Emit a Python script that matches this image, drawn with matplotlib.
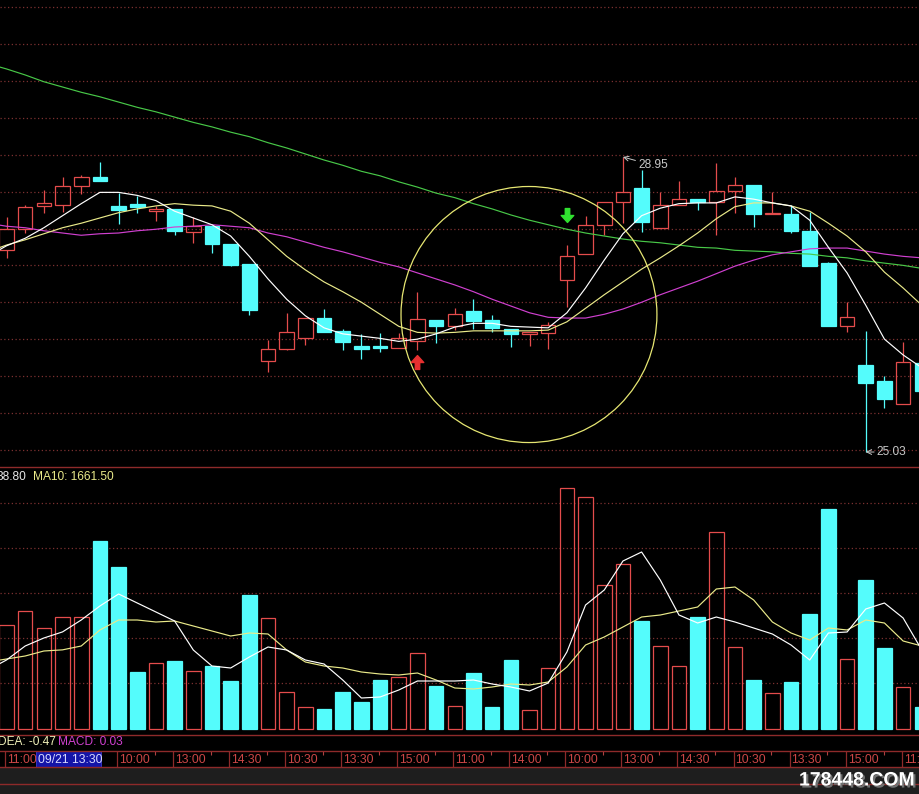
import numpy as np
import matplotlib
matplotlib.use('Agg')
import matplotlib.pyplot as plt
from matplotlib.patches import Rectangle, Ellipse
from matplotlib.lines import Line2D
from matplotlib.path import Path
import matplotlib.patheffects as pe

plt.rcParams['font.family'] = ['Liberation Sans', 'DejaVu Sans']

# ---------------- data ----------------
opens = [27.71, 27.99, 28.30, 28.31, 28.57, 28.68, 28.30, 28.33, 28.23, 28.26,
         27.95, 28.03, 27.79, 27.53, 26.24, 26.40, 26.55, 26.81, 26.64, 26.44,
         26.44, 26.41, 26.50, 26.78, 26.70, 26.90, 26.78, 26.66, 26.60, 26.61,
         27.32, 27.66, 28.05, 28.35, 28.54, 28.01, 28.31, 28.39, 28.35, 28.50,
         28.58, 28.19, 28.19, 27.97, 27.54, 26.70, 26.19, 25.97, 25.67, 26.21]
highs = [28.15, 28.31, 28.51, 28.68, 28.71, 28.88, 28.47, 28.43, 28.30, 28.26,
         28.15, 28.03, 27.79, 27.53, 26.52, 26.88, 26.81, 26.93, 26.66, 26.60,
         26.61, 26.61, 27.16, 26.78, 26.94, 27.06, 26.85, 26.66, 26.62, 26.76,
         27.78, 28.17, 28.35, 28.95, 28.78, 28.49, 28.63, 28.39, 28.87, 28.68,
         28.58, 28.49, 28.31, 28.22, 27.55, 27.02, 26.64, 26.04, 26.49, 26.21]
lows = [27.61, 27.94, 28.21, 28.22, 28.46, 28.63, 28.06, 28.21, 28.10, 27.91,
        27.81, 27.67, 27.50, 26.85, 26.09, 26.39, 26.45, 26.62, 26.39, 26.27,
        26.36, 26.41, 26.39, 26.48, 26.65, 26.66, 26.62, 26.43, 26.44, 26.40,
        26.96, 27.66, 27.91, 28.07, 27.95, 28.01, 28.31, 28.25, 27.91, 28.21,
        28.02, 28.19, 27.94, 27.50, 26.70, 26.62, 25.03, 25.61, 25.67, 25.84]
closes = [27.99, 28.29, 28.34, 28.57, 28.68, 28.63, 28.25, 28.29, 28.26, 27.97,
          28.03, 27.79, 27.51, 26.92, 26.40, 26.62, 26.81, 26.62, 26.49, 26.40,
          26.41, 26.54, 26.80, 26.70, 26.86, 26.77, 26.68, 26.60, 26.62, 26.72,
          27.63, 28.05, 28.35, 28.49, 28.09, 28.31, 28.39, 28.35, 28.50, 28.58,
          28.19, 28.21, 27.97, 27.50, 26.70, 26.82, 25.95, 25.73, 26.23, 25.84]
volumes = [2184, 2478, 2121, 2352, 2352, 3948, 3402, 1197, 1386, 1428,
           1218, 1323, 1008, 2814, 2331, 777, 462, 420, 777, 567,
           1029, 1092, 1596, 903, 483, 1176, 462, 1449, 399, 1281,
           5061, 4872, 3024, 3465, 2268, 1743, 1323, 2352, 4137, 1722,
           1029, 756, 987, 2415, 4620, 1470, 3129, 1701, 882, 462]

# moving averages, bar -1 .. 49
ma5 = [27.63, 27.77, 27.87, 28.01, 28.17, 28.33, 28.48, 28.48, 28.44, 28.37, 28.23,
       28.14, 28.05, 27.90, 27.63, 27.33, 27.06, 26.84, 26.68, 26.60, 26.57,
       26.54, 26.50, 26.53, 26.60, 26.69, 26.74, 26.74, 26.70, 26.69, 26.68,
       26.88, 27.21, 27.58, 27.93, 28.17, 28.27, 28.33, 28.34, 28.34, 28.42,
       28.39, 28.34, 28.30, 28.11, 27.75, 27.41, 26.98, 26.53, 26.32, 26.15]
ma10 = [27.69, 27.78, 27.85, 27.93, 28.01, 28.07, 28.14, 28.21, 28.26, 28.30, 28.33,
        28.31, 28.30, 28.23, 28.07, 27.85, 27.63, 27.45, 27.29, 27.16, 27.02,
        26.86, 26.70, 26.62, 26.61, 26.62, 26.64, 26.64, 26.64, 26.64, 26.65,
        26.76, 26.94, 27.12, 27.29, 27.46, 27.61, 27.77, 27.94, 28.13, 28.29,
        28.34, 28.34, 28.30, 28.23, 28.07, 27.90, 27.69, 27.42, 27.21, 26.98]
ma20 = [28.07, 28.03, 28.01, 27.97, 27.94, 27.91, 27.93, 27.94, 27.97, 27.99, 28.02,
        28.03, 28.05, 28.03, 28.01, 27.94, 27.89, 27.82, 27.75, 27.69, 27.62,
        27.55, 27.49, 27.41, 27.33, 27.25, 27.16, 27.06, 26.97, 26.88, 26.82,
        26.81, 26.81, 26.86, 26.93, 27.02, 27.12, 27.21, 27.30, 27.40, 27.50,
        27.58, 27.65, 27.69, 27.73, 27.74, 27.74, 27.70, 27.66, 27.63, 27.61]
ma60 = [30.19, 30.12, 30.04, 29.95, 29.88, 29.81, 29.75, 29.68, 29.61, 29.55, 29.48,
        29.41, 29.35, 29.28, 29.22, 29.14, 29.07, 28.99, 28.91, 28.84, 28.76,
        28.70, 28.62, 28.55, 28.47, 28.41, 28.33, 28.26, 28.18, 28.11, 28.05,
        27.99, 27.94, 27.90, 27.86, 27.83, 27.81, 27.78, 27.75, 27.74, 27.71,
        27.70, 27.69, 27.67, 27.66, 27.63, 27.61, 27.57, 27.54, 27.51, 27.47]
vol_ma5 = [1239, 1449, 1743, 1911, 2039, 2289, 2583, 2835, 2646, 2457, 2268,
           1659, 1323, 1281, 1512, 1722, 1659, 1449, 1365, 1029, 651,
           672, 819, 1008, 1008, 1008, 1029, 945, 882, 798, 966,
           1617, 2604, 2919, 3528, 3717, 3129, 2394, 2226, 2352, 2247,
           2121, 1995, 1764, 1449, 2016, 2037, 2520, 2646, 2331, 1659]
vol_ma10 = [1407, 1470, 1533, 1638, 1662, 1743, 2079, 2289, 2289, 2247, 2268,
            2163, 2058, 1953, 2016, 1995, 1659, 1407, 1323, 1281, 1197,
            1155, 1134, 1176, 1029, 861, 840, 882, 945, 924, 987,
            1302, 1764, 1932, 2142, 2352, 2394, 2478, 2562, 2940, 2982,
            2709, 2247, 2016, 1869, 2121, 2079, 2289, 2226, 1848, 1743]

time_labels = ['11:00', '14:00', '10:00', '13:00', '14:30', '10:30', '13:30', '15:00',
               '11:00', '14:00', '10:00', '13:00', '14:30', '10:30', '13:30', '15:00', '11:00']
time_label_idx = list(range(0, 49, 3))
cursor_label = '09/21 13:30'
cursor_idx = 3
high_label = '28.95'
low_label = '25.03'
vol_ma5_label = '38.80'
vol_ma10_label = 'MA10: 1661.50'
dea_label = 'DEA: -0.47'
macd_label = 'MACD: 0.03'
buy_idx, sell_idx = 22, 30

# ---------------- styles ----------------
W, H = 919, 794
RED = '#e44c4c'
CYAN = '#54fcfc'
GRID = '#7c3030'
LINE_RED = '#8e2a2a'
BG = '#000000'

def fy(px):
    return 1 - px / H

fig = plt.figure(figsize=(W / 100, H / 100), dpi=100, facecolor=BG)

n = len(opens)
x = np.arange(n)
xm = np.arange(-1, n)
xlim = (-0.348, 48.85)
bw = 0.78

# ---------------- price panel ----------------
ax = fig.add_axes([0, fy(467), 1, 467 / H], facecolor=BG)
ax.set_xlim(*xlim)
ax.set_ylim(24.831, 31.036)
ax.axis('off')
for lv in 25.056 + 0.4906 * np.arange(13):
    ax.axhline(lv, color=GRID, lw=0.9, ls=(0, (1, 2)), zorder=0)

o = np.array(opens); c = np.array(closes); h = np.array(highs); l = np.array(lows)
up = c >= o
for i in range(n):
    lo_b, hi_b = min(o[i], c[i]), max(o[i], c[i])
    hgt = max(hi_b - lo_b, 0.012)
    if up[i]:
        ax.vlines(i, hi_b, h[i], color=RED, lw=0.9, zorder=2)
        ax.vlines(i, l[i], lo_b, color=RED, lw=0.9, zorder=2)
        ax.add_patch(Rectangle((i - bw / 2, lo_b), bw, hgt, facecolor='none',
                               edgecolor=RED, lw=0.9, zorder=2))
    else:
        ax.vlines(i, l[i], h[i], color=CYAN, lw=0.9, zorder=2)
        ax.add_patch(Rectangle((i - bw / 2, lo_b), bw, hgt, facecolor=CYAN,
                               edgecolor=CYAN, lw=0.9, zorder=2))

ax.plot(xm, ma60, color='#48c848', lw=0.85, zorder=3)
ax.plot(xm, ma20, color='#d040d0', lw=0.85, zorder=3)
ax.plot(xm, ma10, color='#eaea8a', lw=0.85, zorder=3)
ax.plot(xm, ma5, color='#ffffff', lw=0.85, zorder=3)

# circle annotation
ax.add_patch(Ellipse((27.97, 26.857), 13.70, 3.402, facecolor='none',
                     edgecolor='#e6e672', lw=0.9, zorder=4))

# buy / sell arrows
av = [(-0.16, -0.5), (0.16, -0.5), (0.16, 0.0), (0.45, 0.0), (0, 0.5), (-0.45, 0.0), (-0.16, 0.0), (-0.16, -0.5)]
codes = [Path.MOVETO] + [Path.LINETO] * 6 + [Path.CLOSEPOLY]
up_arrow = Path(av, codes)
down_arrow = Path([(a, -b) for a, b in av], codes)
ax.plot([buy_idx], [lows[buy_idx] - 0.165], marker=up_arrow, ms=10, color='#e83030', mec='#e83030', zorder=5)
ax.plot([sell_idx], [highs[sell_idx] + 0.40], marker=down_arrow, ms=10, color='#30e030', mec='#30e030', zorder=5)

# high / low labels
hi_i = int(np.argmax(h)); lo_i = int(np.argmin(l))
ax.annotate(high_label, xy=(hi_i, h[hi_i]), xytext=(11, -6), textcoords='offset points',
            color='#c8c8c8', fontsize=8.6, va='center', ha='left',
            arrowprops=dict(arrowstyle='->', color='#c8c8c8', lw=0.7, shrinkA=0, shrinkB=0))
ax.annotate(low_label, xy=(lo_i, l[lo_i]), xytext=(8, 0), textcoords='offset points',
            color='#c8c8c8', fontsize=8.6, va='center', ha='left',
            arrowprops=dict(arrowstyle='->', color='#c8c8c8', lw=0.7, shrinkA=0, shrinkB=0))

# ---------------- volume panel ----------------
av_ = fig.add_axes([0, fy(734), 1, (734 - 468) / H], facecolor=BG)
av_.set_xlim(*xlim)
av_.set_ylim(-105, 5481)
av_.axis('off')
for lv in [966, 1911, 2856, 3801, 4746]:
    av_.axhline(lv, color=GRID, lw=0.9, ls=(0, (1, 2)), zorder=0)
vol = np.array(volumes)
av_.bar(x[up], vol[up], width=bw, facecolor='none', edgecolor=RED, lw=0.9, zorder=2)
av_.bar(x[~up], vol[~up], width=bw, facecolor=CYAN, edgecolor=CYAN, lw=0.9, zorder=2)
av_.plot(xm, vol_ma10, color='#eaea8a', lw=0.85, zorder=3)
av_.plot(xm, vol_ma5, color='#ffffff', lw=0.85, zorder=3)

fig.text(-3 / W, fy(477), vol_ma5_label, color='#e8e8e8', fontsize=8.6, va='center', ha='left')
fig.text(33 / W, fy(477), vol_ma10_label, color='#eaea8a', fontsize=8.6, va='center', ha='left')

# MACD label row
fig.text(-2 / W, fy(742), dea_label, color='#f0f0b8', fontsize=8.6, va='center', ha='left')
fig.text(58 / W, fy(742), macd_label, color='#d040d0', fontsize=8.6, va='center', ha='left')

# ---------------- time axis ----------------
at = fig.add_axes([0, fy(767), 1, 16 / H], facecolor=BG)
at.set_xlim(*xlim)
at.set_ylim(0, 1)
at.axis('off')
for i, lab in zip(time_label_idx, time_labels):
    at.vlines(i - 0.08, 0, 1, color=LINE_RED, lw=0.9)
    at.vlines(i + 2 - 0.05, 0.72, 1, color='#b04040', lw=0.8)
    if i != cursor_idx:
        at.text(i + 0.03, 0.45, lab, color='#cc4646', fontsize=8.8, va='center', ha='left')
at.add_patch(Rectangle((1.58, 0.02), 3.48, 0.96, facecolor='#1414a8', edgecolor='#3a3ad0', lw=0.6, zorder=5))
at.text(1.66, 0.45, cursor_label, color='#d8d8ff', fontsize=8.7, va='center', ha='left', zorder=6)

# bottom gray strip
fig.add_artist(Rectangle((0, 0), 1, (H - 767) / H, transform=fig.transFigure,
                         facecolor='#1e1e1e', edgecolor='none', zorder=0))

# panel separator lines
for yy in [467, 735, 751, 767, 784]:
    fig.add_artist(Line2D([0, 1], [fy(yy), fy(yy)], transform=fig.transFigure,
                          color=LINE_RED, lw=1.0))

# watermark
fig.text(915 / W, fy(781), '178448.COM', color='white', fontsize=14, fontweight='bold',
         ha='right', va='center',
         path_effects=[pe.withSimplePatchShadow(offset=(1.5, -1.5), shadow_rgbFace='#707070', alpha=1.0)])

fig.savefig('out.png', dpi=100, facecolor=BG)
